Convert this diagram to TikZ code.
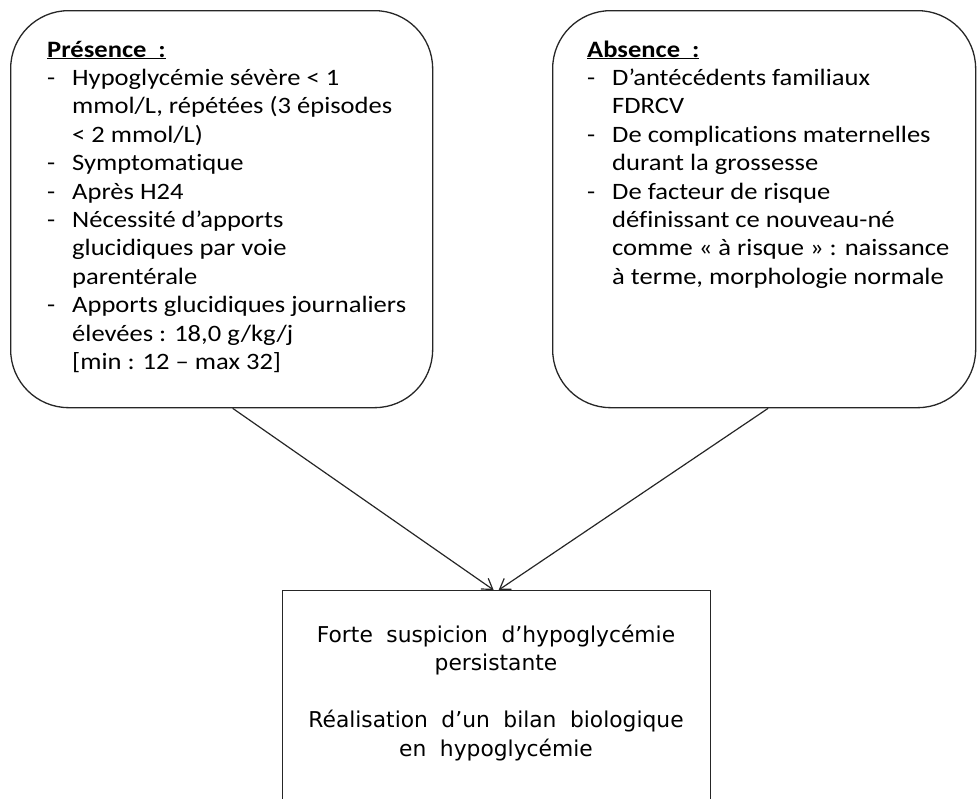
\documentclass[tikz,border=0pt]{standalone}
\usepackage{fontspec}
\setmainfont{Carlito}[FakeStretch=1.13, Ligatures=NoCommon]
\newfontfamily\botfont{DejaVu Sans}
\usetikzlibrary{arrows.meta,calc}
\newcommand{\itm}{\makebox[25pt][l]{-}}
\newcommand{\cnt}{\hspace*{25pt}}
\begin{document}
\begin{tikzpicture}[x=1pt,y=-1pt,
  bubble/.style={draw=black!85, line width=1.3pt, rounded corners=58pt, inner sep=0pt, anchor=north west},
  resultbox/.style={draw=black!85, line width=1.3pt, inner sep=0pt, anchor=north west},
  txt/.style={inner sep=0pt, anchor=base west, font=\fontsize{23.5}{28.4}\selectfont},
  bottxt/.style={inner sep=0pt, anchor=base, font=\botfont\fontsize{21.8}{28.6}\selectfont},
  link/.style={draw=black!85, line width=1.2pt, -{Straight Barb[length=10pt,width=13pt]}}]
\clip (0,0) rectangle (977,798);
\node[bubble, minimum width=422pt, minimum height=397pt] (left) at (10,10) {};
\node[bubble, minimum width=423pt, minimum height=397pt] (right) at (552,10) {};
\node[resultbox, minimum width=428pt, minimum height=260pt] (bot) at (282,590) {};
\node[txt] (ltext) at (47,57) {\parbox[t]{400pt}{\raggedright
\textbf{\underline{Présence\ \ :}}\\
\itm Hypoglycémie sévère < 1\\
\cnt mmol/L, répétées (3 épisodes\\
\cnt < 2 mmol/L)\\
\itm Symptomatique\\
\itm Après H24\\
\itm Nécessité d’apports\\
\cnt glucidiques par voie\\
\cnt parentérale\\
\itm Apports glucidiques journaliers\\
\cnt élevées : 18,0 g/kg/j\\
\cnt [min : 12 – max 32]}};
\node[txt] (rtext) at (587,57) {\parbox[t]{400pt}{\raggedright
\textbf{\underline{Absence\ \ :}}\\
\itm D’antécédents familiaux\\
\cnt FDRCV\\
\itm De complications maternelles\\
\cnt durant la grossesse\\
\itm De facteur de risque\\
\cnt définissant ce nouveau-né\\
\cnt comme « à risque » : naissance\\
\cnt à terme, morphologie normale}};
\node[bottxt] (btext) at (496,642) {\parbox[t]{420pt}{\centering\spaceskip=0.62em plus 0.1em
Forte suspicion d’hypoglycémie\\
persistante\\[28.6pt]
Réalisation d’un bilan biologique\\
en hypoglycémie}};
\draw[link] ($(left.south)+(11,0)$) -- ($(bot.north)+(-3,0)$);
\draw[link] ($(right.south)+(4,0)$) -- ($(bot.north)+(2,0)$);
\end{tikzpicture}
\end{document}
